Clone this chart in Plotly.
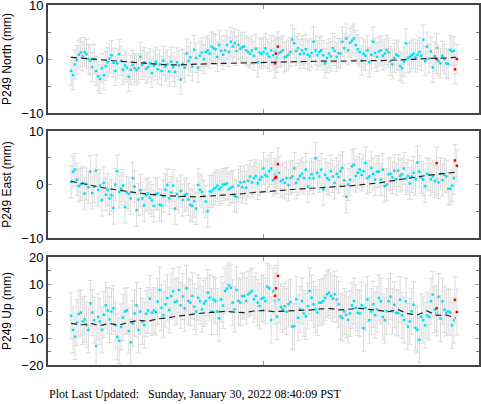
import numpy as np
import plotly.graph_objects as go

# ---------------- data ----------------
# sample epochs (decimal year), one every 0.01 yr
EPOCHS = np.round(2020.0 + 0.01 * np.arange(200), 3)

NORTH = [
    -2.2, -3.0, -1.0, -0.2, 0.8, 1.2, 0.5, 1.3, 0.9, 0.0,
    -0.3, -1.5, 0.0, -2.2, -3.2, -3.7, -1.7, -3.0, -1.3, -0.6,
    0.1, 0.7, -0.7, -2.2, -0.8, 0.9, -0.3, -2.0, -1.2, -1.6,
    -3.3, -2.0, -1.1, -1.7, -2.1, -1.7, 0.4, -1.1, -0.6, -1.8,
    -1.5, -0.8, -2.6, -1.2, -0.5, -1.9, -1.0, -2.2, -0.3, -1.4,
    -1.0, -2.3, -0.5, -1.5, -2.4, -0.6, -1.2, -3.8, -0.9, -1.6,
    1.0, -0.4, 0.3, -1.4, 1.7, 0.2, -1.6, 0.6, 1.2, 0.0,
    1.3, 1.6, 1.0, 2.3, 2.0, 1.8, 0.4, 2.6, 1.5, 0.8,
    1.6, 2.6, 1.3, 3.2, 2.3, 2.9, 1.5, 2.6, 1.9, 2.2,
    2.3, 1.6, 1.3, 1.0, 1.6, 0.6, 1.9, -0.6, 1.2, 0.9,
    1.3, 2.0, 1.0, 0.4, 1.6, 0.7, 1.4, 0.2, 1.1, 1.3,
    1.6, 0.3, 0.5, 0.8, 1.3, 3.6, 2.9, 1.5, 2.0, 0.9,
    1.6, 1.0, 1.8, 0.8, 0.5, 1.1, 3.2, 1.6, 0.7, 1.3,
    1.6, 0.7, -0.8, 0.2, 1.0, 0.5, 2.0, 1.5, 0.4, 1.1,
    1.0, 3.2, 2.0, 3.8, 1.6, 3.0, 3.4, 3.8, 2.6, 1.8,
    1.3, -0.3, 1.0, 0.6, 1.6, -0.6, 0.8, 3.2, 1.1, 0.4,
    1.4, 1.6, 0.6, 1.0, 1.7, 1.2, -0.4, -1.0, 0.2, 0.8,
    0.6, -1.3, -1.7, -0.5, 2.9, 0.2, 0.4, 0.7, 1.0, 0.3,
    0.8, 1.3, 0.6, 3.6, -0.4, 2.3, 0.1, 1.4, -1.6, 0.5,
    2.0, -0.4, -0.8, 0.6, 0.0, -0.8, -0.9, 1.7, 1.4, 1.5,
]

EAST = [
    0.5, 2.4, 2.8, 0.9, -0.3, 0.0, 0.3, -1.7, 0.1, -0.5,
    2.4, -1.6, -0.4, 2.6, -1.0, -0.2, -2.9, 0.3, -1.9, -1.0,
    -2.6, -2.0, -4.4, 0.0, 2.5, -1.4, -0.8, -0.2, -4.2, -1.5,
    -1.8, -2.6, 1.2, -0.4, -4.8, -2.8, -1.1, -2.6, -3.9, -2.0,
    -1.7, -2.5, -3.0, -4.0, -1.8, -1.7, -3.8, -3.9, -2.2, -1.0,
    -0.1, -2.6, -1.5, -0.2, -4.5, -1.8, -2.3, -1.2, -2.9, -2.0,
    -1.8, -2.8, -3.8, -4.0, -3.1, -4.5, -0.1, -1.0, -1.4, -2.2,
    -3.2, -5.0, -1.3, -1.3, -0.9, -0.6, -0.2, -0.9, -0.5, 0.0,
    0.0, 0.2, -0.9, -0.6, -0.4, -2.1, -2.3, -0.2, 0.4, -0.5,
    0.5, -0.6, 0.7, 1.5, 0.4, 1.2, 1.6, 0.2, 0.9, 1.4,
    3.0, 1.8, 1.5, 2.5, 3.0, 0.8, 1.9, 1.2, 2.2, 0.6,
    0.9, 0.3, 1.2, -0.1, 1.2, 1.5, 3.0, 0.3, 1.0, 1.6,
    2.0, 1.2, 2.8, -0.4, 1.2, 1.9, 1.2, 4.9, 2.2, 1.5,
    2.8, -0.9, 1.8, 1.2, 0.9, 2.5, 1.5, 0.3, 2.0, 1.4,
    2.5, 3.1, 0.8, -2.3, 0.0, 0.9, 3.4, 3.7, 1.6, 2.2,
    2.8, 1.8, 2.5, 4.0, 1.2, 1.5, 3.1, 2.0, 0.9, 2.4,
    2.4, 0.9, 2.8, -0.3, 0.0, 1.9, 2.0, 1.3, 2.6, 1.0,
    2.6, 1.6, 1.9, 3.0, 1.1, 1.6, 0.2, 1.5, 2.2, 1.0,
    4.1, 2.4, 1.3, 0.9, -0.3, 2.0, 1.8, 1.0, 1.5, 0.6,
    1.0, 0.4, 2.0, 0.8, 1.8, 1.5, -0.8, -0.8, -0.2, 1.2,
]

UP = [
    -1.8, -7.0, -9.5, -4.3, -1.1, -0.6, -3.9, -3.1, -5.2, -7.0,
    2.8, -0.6, -3.4, -13.0, -2.2, -3.9, -7.0, -1.4, 2.1, 0.2,
    -3.1, -0.2, 1.0, -5.2, -9.6, -11.0, -5.9, -2.4, -0.2, 0.2,
    -7.4, -11.6, -4.6, -0.9, 2.1, -7.0, -0.2, -3.9, -5.2, -1.0,
    0.2, 4.6, -0.6, 0.2, -0.4, 3.5, 7.8, 1.2, -1.5, 2.5,
    4.8, 0.4, 5.5, 7.3, 3.3, 3.7, 7.8, 2.1, 5.4, 1.0,
    8.4, 3.7, 3.1, 5.6, 1.6, -0.2, 4.9, 3.7, 0.6, 2.8,
    3.7, 6.8, 4.9, -0.2, 4.3, 3.7, -0.2, -2.7, 4.3, 2.0,
    7.4, 8.3, 9.5, 8.6, 3.1, 0.6, 7.8, 3.7, 3.1, 5.5,
    5.6, 3.7, 6.2, 6.8, 7.4, 4.3, 5.6, 3.1, 1.8, 4.5,
    4.9, 3.7, 9.0, 8.4, -3.3, 7.4, 3.7, -2.1, 4.3, 1.5,
    0.6, 1.8, -0.2, 2.5, 3.3, -5.8, -5.6, 4.3, -2.5, 0.6,
    3.7, -0.9, -2.0, 1.8, 7.4, 4.9, 2.5, 0.6, -0.6, 3.1,
    3.1, 3.7, 4.9, 6.2, 6.8, 5.6, 4.6, 6.2, 4.3, 2.5,
    -2.0, -2.6, -0.2, -1.4, -3.3, -0.9, 2.1, 3.7, 1.2, -0.6,
    -0.9, 2.1, -6.4, 1.2, 4.3, -3.4, -0.2, 2.5, -1.5, 0.6,
    4.8, 3.6, -2.2, -3.4, -0.1, 3.6, 5.3, -0.1, 2.3, -0.7,
    -0.7, 4.2, -1.6, -3.4, 3.6, -5.8, -3.9, -0.1, 2.3, -6.3,
    -7.0, -10.7, -2.2, -3.4, -5.3, -1.6, -2.2, 3.6, 6.1, 0.5,
    -0.7, 5.3, -2.8, 3.6, 0.5, -0.7, -0.1, -0.5, -5.3, -3.4,
]

# model (dashed) curves, one value every 0.05 yr
MODEL_T = np.round(2020.0 + 0.05 * np.arange(41), 3)
NORTH_MODEL = [0.3, 0.15, 0.0, -0.15, -0.3, -0.45, -0.6, -0.75, -0.9, -1.05,
               -1.1, -1.1, -1.0, -0.95, -0.9, -0.85, -0.8, -0.75, -0.7, -0.65,
               -0.6, -0.55, -0.5, -0.45, -0.4, -0.4, -0.4, -0.4, -0.4, -0.4,
               -0.35, -0.35, -0.3, -0.25, -0.15, -0.1, 0.0, 0.05, 0.15, 0.2, 0.3]
EAST_MODEL = [0.6, 0.2, -0.2, -0.5, -0.8, -1.1, -1.3, -1.6, -1.8, -2.0,
              -2.1, -2.2, -2.3, -2.3, -2.2, -2.1, -2.0, -1.9, -1.7, -1.5,
              -1.35, -1.2, -1.0, -0.9, -0.8, -0.7, -0.55, -0.45, -0.35, -0.25,
              -0.1, 0.1, 0.3, 0.6, 0.9, 1.2, 1.5, 1.7, 1.9, 2.1, 2.3]
UP_MODEL = [-4.6, -5.2, -4.6, -5.4, -4.6, -5.2, -4.2, -3.4, -3.8, -2.9,
            -2.6, -1.9, -1.6, -1.0, -0.7, -0.3, -0.1, -0.4, -0.6, 0.0,
            0.2, -0.2, -0.1, 0.0, 0.2, 0.4, 0.8, 0.9, 0.4, 0.6,
            1.0, 0.6, 0.3, -0.2, 0.5, -1.0, -1.4, 0.0, -1.6, -1.5, -2.6]

# red (recent / flagged) solutions
RED_T = [2021.075, 2021.065, 2021.06, 2021.90, 2021.995, 2022.005]
NORTH_RED = [2.3, 1.0, -0.8, 0.0, -1.9, 0.0]
EAST_RED = [3.8, 1.4, 1.2, 4.0, 4.5, 3.5]
UP_RED = [13.0, 8.4, 5.6, 1.0, 4.1, -0.4]

# uncertainties (mm)
NORTH_ERR = 2.7
EAST_ERR = 3.0
UP_ERR = 8.5

TITLES = ["P249 North (mm)", "P249 East (mm)", "P249 Up (mm)"]
YRANGES = [[-10, 10], [-10, 10], [-20, 20]]
YTICKS = [[-10, 0, 10], [-10, 0, 10], [-20, -10, 0, 10, 20]]
YMINOR = [[-5, 5], [-5, 5], [-15, -5, 5, 15]]
FOOTER = "Plot Last Updated:\u00a0\u00a0\u00a0Sunday, January 30, 2022 08:40:09 PST"

# ---------------- figure ----------------
W, H = 481, 404
CYAN = "#00e1f5"
RED = "#ff0000"
GREY = "#dcdcdc"
AXC = "#444444"

panels = [
    (NORTH, NORTH_ERR, NORTH_MODEL, NORTH_RED),
    (EAST, EAST_ERR, EAST_MODEL, EAST_RED),
    (UP, UP_ERR, UP_MODEL, UP_RED),
]
# pixel extents (top, bottom) of each plotting box
boxes = [(5, 113), (131, 238), (257, 365)]

fig = go.Figure()
for i, (vals, err, model, red) in enumerate(panels):
    xa = "x" if i == 0 else f"x{i+1}"
    ya = "y" if i == 0 else f"y{i+1}"
    fig.add_trace(go.Scatter(
        x=EPOCHS, y=vals, mode="markers", xaxis=xa, yaxis=ya,
        marker=dict(symbol="square", size=2.5, color=CYAN),
        error_y=dict(type="constant", value=err, color=GREY, thickness=1, width=2.5),
        showlegend=False, hoverinfo="skip"))
    fig.add_trace(go.Scatter(
        x=RED_T, y=red, mode="markers", xaxis=xa, yaxis=ya,
        marker=dict(symbol="square", size=2.5, color=RED),
        error_y=dict(type="constant", value=err, color=GREY, thickness=1, width=2.5),
        showlegend=False, hoverinfo="skip"))
    fig.add_trace(go.Scatter(
        x=MODEL_T, y=model, mode="lines", xaxis=xa, yaxis=ya,
        line=dict(color="#222222", width=1.2, dash="6px,4px"),
        showlegend=False, hoverinfo="skip"))

layout = dict(
    width=W, height=H, margin=dict(l=0, r=0, t=0, b=0, autoexpand=False),
    paper_bgcolor="white", plot_bgcolor="white",
    font=dict(family="Liberation Sans, Arial, sans-serif", size=13, color="black"),
    showlegend=False,
)
for i, (top, bot) in enumerate(boxes):
    sfx = "" if i == 0 else str(i + 1)
    layout["xaxis" + sfx] = dict(
        domain=[48 / W, 479 / W], range=[2019.88, 2022.12],
        anchor="y" + sfx, tickvals=[2021], showticklabels=False,
        ticks="inside", ticklen=4, tickcolor="#999999", tickwidth=1,
        showline=True, linewidth=2, linecolor=AXC, mirror="ticks",
        showgrid=False, zeroline=False, automargin=False)
    layout["yaxis" + sfx] = dict(
        domain=[1 - bot / H, 1 - top / H], range=YRANGES[i],
        anchor="x" + sfx, tickvals=YTICKS[i], ticklabeloverflow="allow",
        ticks="inside", ticklen=4, tickcolor="#aaaaaa", tickwidth=1,
        minor=dict(tickvals=YMINOR[i], ticks="inside", ticklen=3,
                   tickcolor="#777777", tickwidth=1, showgrid=False),
        showline=True, linewidth=2, linecolor=AXC, mirror="ticks",
        showgrid=False, zeroline=False, automargin=False,
        title=dict(text=TITLES[i], font=dict(size=12), standoff=10))

fig.update_layout(**layout)
fig.add_annotation(
    text=FOOTER, xref="paper", yref="paper", x=47 / W, y=1 - 394 / H,
    xanchor="left", yanchor="middle", showarrow=False,
    font=dict(family="Liberation Serif, Times New Roman, serif", size=12, color="black"))

fig.write_html(
    "out.html",
    config={"displayModeBar": False},
    post_script="document.body.style.margin='0px';document.body.style.overflow='hidden';")
